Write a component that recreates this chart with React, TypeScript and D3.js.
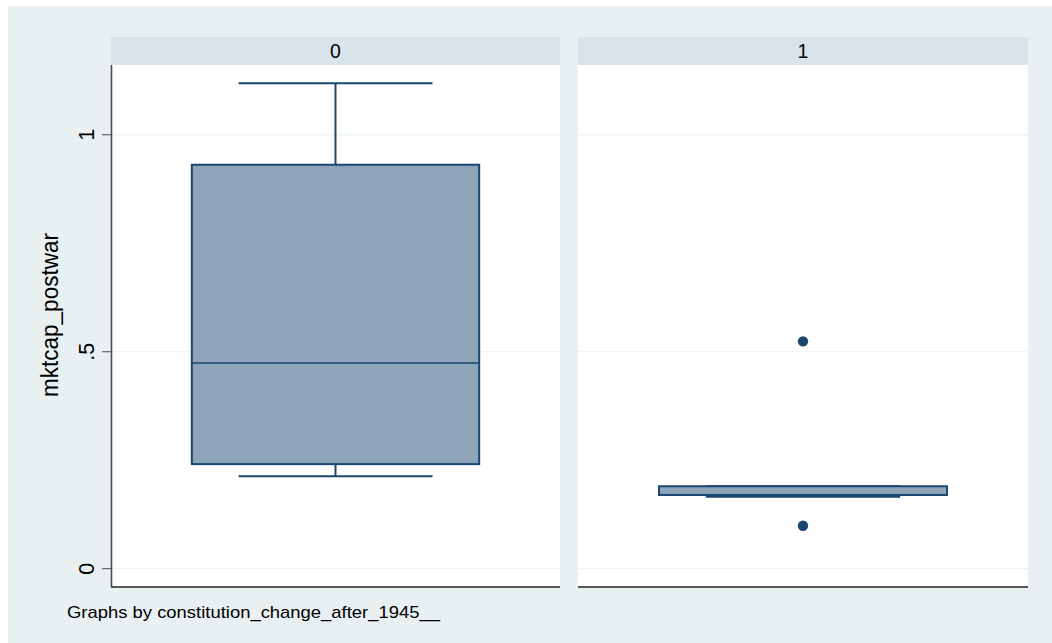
import React from "react";
import * as d3 from "d3";

const groupLabels = ["0", "1"];
const whiskerLow = [0.213, 0.166];
const q1 = [0.241, 0.17];
const median = [0.474, 0.17];
const q3 = [0.931, 0.19];
const whiskerHigh = [1.119, 0.19];
const outliers: number[][] = [[], [0.524, 0.099]];
const yTicks = [0, 0.5, 1];
const yTickLabels = ["0", ".5", "1"];
const yTitle = "mktcap_postwar";
const note = "Graphs by constitution_change_after_1945__";

const W = 1052;
const H = 643;
const BG = "#e8f0f2";
const STRIP = "#d8e4ea";
const GRID = "#eaf2f3";
const NAVY = "#1a476f";
const FILL = "#8ea4b8";
const FONT = "Liberation Sans, Arial, sans-serif";

const plotTop = 65;
const plotBottom = 587;
const stripTop = 37;
const panels = [
  { x0: 111, x1: 560 },
  { x0: 578, x1: 1028 },
];

export default function App() {
  const y = d3.scaleLinear().domain([0, 1]).range([568.7, 134.8]);

  return (
    <div style={{ position: "fixed", left: 0, top: 0, width: W, height: H, background: "#fff" }}>
      <svg width={W} height={H} style={{ display: "block" }}>
        <rect x={8} y={6} width={W - 8} height={H - 6} fill={BG} />
        {panels.map((p, i) => {
          const x = d3
            .scaleBand<string>()
            .domain([groupLabels[i]])
            .range([p.x0, p.x1])
            .padding(0.2195);
          const bx = x(groupLabels[i]) as number;
          const bw = x.bandwidth();
          const cx = bx + bw / 2;
          const capW = bw * 0.675;
          return (
            <g key={i}>
              <rect x={p.x0} y={stripTop} width={p.x1 - p.x0} height={plotTop - stripTop} fill={STRIP} />
              <text
                x={(p.x0 + p.x1) / 2}
                y={58}
                textAnchor="middle"
                fontFamily={FONT}
                fontSize={19.5}
                fill="#000"
              >
                {groupLabels[i]}
              </text>
              <rect x={p.x0} y={plotTop} width={p.x1 - p.x0} height={plotBottom - plotTop} fill="#fff" />
              {yTicks.map((t) => (
                <line key={t} x1={p.x0} x2={p.x1} y1={y(t)} y2={y(t)} stroke={GRID} strokeWidth={1.2} />
              ))}
              {/* whiskers */}
              <line x1={cx} x2={cx} y1={y(whiskerHigh[i])} y2={y(q3[i])} stroke={NAVY} strokeWidth={2} />
              <line x1={cx} x2={cx} y1={y(q1[i])} y2={y(whiskerLow[i])} stroke={NAVY} strokeWidth={2} />
              <line
                x1={cx - capW / 2}
                x2={cx + capW / 2}
                y1={y(whiskerHigh[i])}
                y2={y(whiskerHigh[i])}
                stroke={NAVY}
                strokeWidth={2}
              />
              <line
                x1={cx - capW / 2}
                x2={cx + capW / 2}
                y1={y(whiskerLow[i])}
                y2={y(whiskerLow[i])}
                stroke={NAVY}
                strokeWidth={2}
              />
              <rect
                x={bx}
                y={y(q3[i])}
                width={bw}
                height={y(q1[i]) - y(q3[i])}
                fill={FILL}
                stroke={NAVY}
                strokeWidth={2}
              />
              <line x1={bx} x2={bx + bw} y1={y(median[i])} y2={y(median[i])} stroke={NAVY} strokeWidth={1.6} />
              {outliers[i].map((v, k) => (
                <circle key={k} cx={cx} cy={y(v)} r={5.2} fill={NAVY} />
              ))}
              <line x1={p.x0} x2={p.x1} y1={plotBottom} y2={plotBottom} stroke="#222" strokeWidth={1.5} />
            </g>
          );
        })}
        {/* left axis */}
        <line x1={111.5} x2={111.5} y1={plotTop} y2={plotBottom} stroke="#4a4a4a" strokeWidth={1.6} />
        {yTicks.map((t, k) => (
          <g key={t}>
            <line x1={102} x2={111} y1={y(t)} y2={y(t)} stroke="#4a4a4a" strokeWidth={1} />
            <text
              transform={`translate(${94},${y(t)}) rotate(-90)`}
              textAnchor="middle"
              fontFamily={FONT}
              fontSize={21.5}
              fill="#000"
            >
              {yTickLabels[k]}
            </text>
          </g>
        ))}
        <text
          transform={`translate(${58},${315}) rotate(-90)`}
          textAnchor="middle"
          fontFamily={FONT}
          fontSize={23}
          textLength={164}
          lengthAdjust="spacingAndGlyphs"
          fill="#000"
        >
          {yTitle}
        </text>
        <text x={67} y={618} fontFamily={FONT} fontSize={17} textLength={373} lengthAdjust="spacingAndGlyphs" fill="#000">
          {note}
        </text>
      </svg>
    </div>
  );
}
